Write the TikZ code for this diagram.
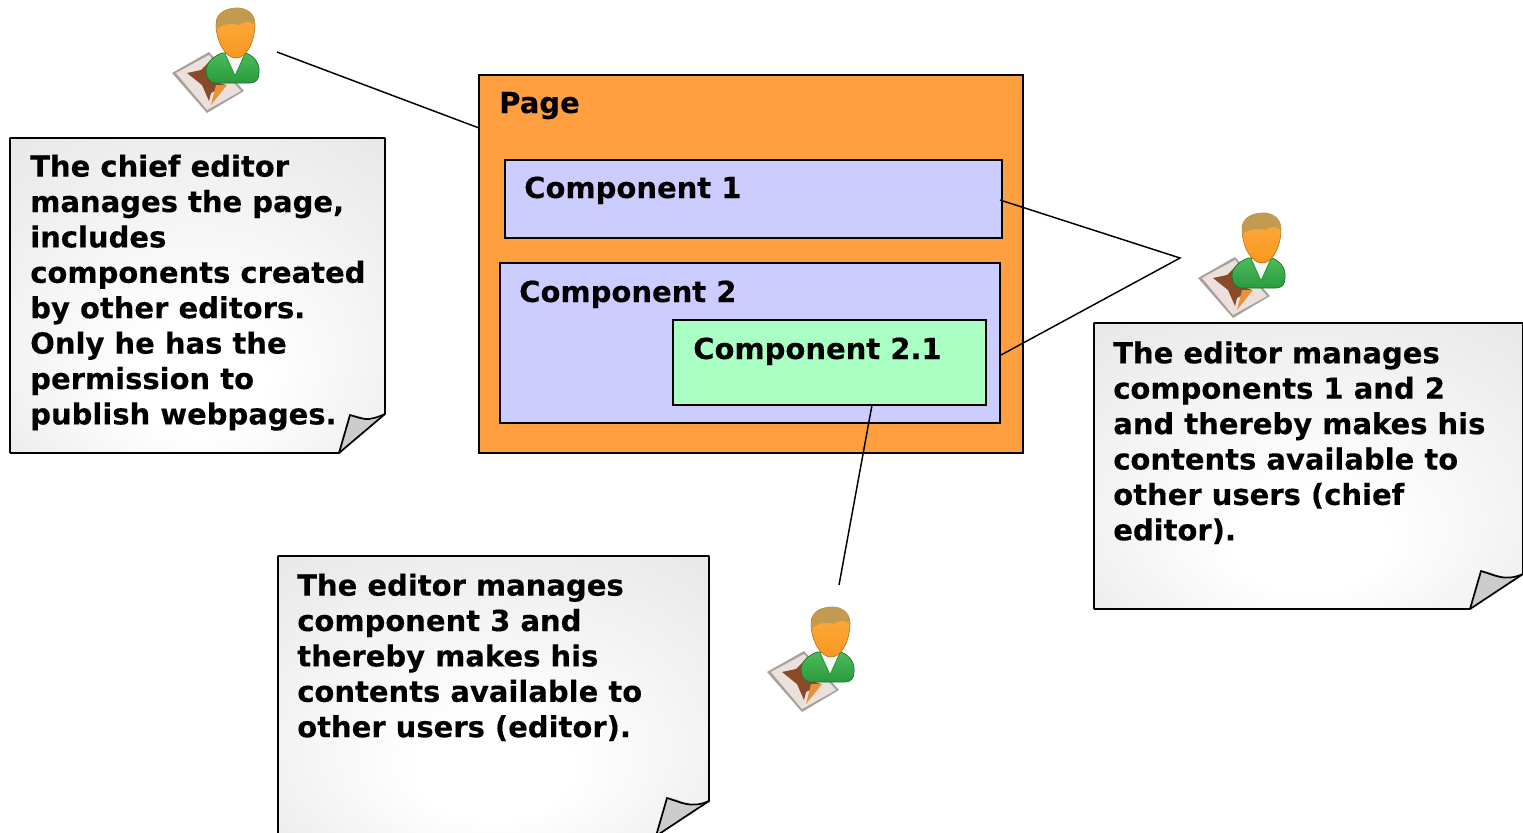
\documentclass[tikz,border=0pt]{standalone}
\usepackage{fontspec}
\setmainfont[BoldFeatures={FakeBold=0.25}]{DejaVu Sans}
\usetikzlibrary{calc}
\definecolor{pageorange}{HTML}{FF9F40}
\definecolor{complilac}{HTML}{CCCCFF}
\definecolor{compgreen}{HTML}{AAFFC3}
\definecolor{skin}{HTML}{F9981F}
\definecolor{skinlight}{HTML}{FFAE45}
\definecolor{hair}{HTML}{C29A50}
\definecolor{shirt}{HTML}{4DBB5A}
\definecolor{shirtdark}{HTML}{2A9A3E}
\definecolor{paperedge}{HTML}{A8A09C}
\definecolor{paperfill}{HTML}{EBE0DC}
\definecolor{starbrown}{HTML}{8A4A2A}
\definecolor{starorange}{HTML}{E8903C}
\pgfdeclareradialshading{noteshade}{\pgfpoint{0bp}{-16bp}}{%
  color(0bp)=(white);color(9bp)=(white);color(44bp)=(black!11);color(50bp)=(black!13)}
\tikzset{
  x=0.75pt,y=-0.75pt,
  boxtext/.style={font=\fontsize{21.75pt}{26.55pt}\selectfont\bfseries,inner sep=0pt,anchor=base west},
  notetext/.style={font=\fontsize{21.75pt}{26.55pt}\selectfont\bfseries,inner sep=0pt,anchor=north west,align=left},
  compbox/.style={draw=black,line width=1.5pt,inner sep=0pt,outer sep=0pt,anchor=north west},
  connector/.style={draw=black,line width=1.1pt},
  noteedge/.style={draw=black,line width=1.3pt,line join=round},
  usericon/.pic={
    % paper
    \fill[paperedge,line join=round] (-64,46) -- (-27,25) -- (8,64) -- (-29,86) -- cycle;
    \fill[paperfill] (-60,46) -- (-27,28) -- (5,64) -- (-29,83) -- cycle;
    \fill[starbrown] (-49,46) -- (-35,43) -- (-28,36) -- (-22,54) -- (-10,58) -- (-25,66) -- (-27,74) -- (-34,58) -- cycle;
    \fill[starorange] (-25,78) -- (-20,58) -- (-9,58) -- cycle;
    % body
    \shade[top color=shirt,bottom color=shirtdark,draw=shirtdark!70!black,line width=0.5pt] (-30,44) .. controls (-30,36) and (-24,30) .. (-14,26) -- (10,26) .. controls (20,30) and (24,38) .. (23,46) .. controls (23,52) and (20,56) .. (14,56) -- (-20,56) .. controls (-27,56) and (-30,50) .. (-30,44) -- cycle;
    \fill[black!3] (-11,27) -- (9,27) -- (-1,49) -- cycle;
    \draw[shirtdark,line width=0.8pt] (-11,27) -- (-1,49) -- (9,27);
    % head
    \shade[top color=skinlight,bottom color=skin,draw=skin!70!black,line width=0.4pt] (-20,-3) .. controls (-20,-24) and (19,-24) .. (19,-3) .. controls (19,14) and (11,31) .. (0,31) .. controls (-11,31) and (-20,14) .. (-20,-3) -- cycle;
    % hair
    \fill[hair] (-20,3) .. controls (-23,-25) and (21,-27) .. (19,-2) .. controls (14,-6) and (9,-6) .. (3,-2) .. controls (-6,-4) and (-14,-3) .. (-20,3) -- cycle;
  }
}
\newcommand{\notesheet}[8]{% name, x0,y0,x1,y1(apex right),xf,yb,clip bottom
  \path[shading=noteshade]
    (#2,#3) -- (#4,#3) -- (#4,#5) -- (#6,#7) -- (#2,#7) -- cycle;
  \begin{scope}
    \clip (#2-2,#3-2) rectangle (#4+2,#8);
    \fill[black!20] (#4,#5) .. controls ($(#4,#5)+(-18,13)$) and ($(#6,#7)+(30,-38)$) .. ($(#6,#7)+(11,-38)$) -- (#6,#7) -- cycle;
    \draw[noteedge] (#2,#7) -- (#2,#3) -- (#4,#3) -- (#4,#5) -- (#6,#7) -- (#2,#7);
    \draw[noteedge] (#4,#5) .. controls ($(#4,#5)+(-18,8)$) and ($(#6,#7)+(25,-34)$) .. ($(#6,#7)+(11,-38)$) -- (#6,#7);
  \end{scope}
  \coordinate (#1) at (#2,#3);
}
\begin{document}
\begin{tikzpicture}
\useasboundingbox (0,0) rectangle (1523,832);
% page and components
\node[compbox,fill=pageorange,minimum width=544*0.75pt,minimum height=378*0.75pt] (page) at (479,75) {};
\node[compbox,fill=complilac,minimum width=497*0.75pt,minimum height=78*0.75pt] (comp1) at (505,160) {};
\node[compbox,fill=complilac,minimum width=500*0.75pt,minimum height=160*0.75pt] (comp2) at (500,263) {};
\node[compbox,fill=compgreen,minimum width=313*0.75pt,minimum height=85*0.75pt] (comp21) at (673,320) {};
\node[boxtext] (lpage) at (499,113) {Page};
\node[boxtext] (lc1) at (524,198) {Component 1};
\node[boxtext] (lc2) at (519,302) {Component 2};
\node[boxtext] (lc21) at (693,359) {Component 2.1};
% notes
\notesheet{n1}{10}{138}{385}{414}{339}{453}{456}
\notesheet{n2}{1094}{323}{1523}{574}{1470}{609}{612}
\notesheet{n3}{278}{556}{709}{801}{656}{836}{832}
\node[notetext] (t1) at (30,154.3) {The chief editor\\manages the page,\\includes\\components created\\by other editors.\\Only he has the\\permission to\\publish webpages.};
\node[notetext] (t2) at (1113,341) {The editor manages\\components 1 and 2\\and thereby makes his\\contents available to\\other users (chief\\editor).};
\node[notetext] (t3) at (297,573.3) {The editor manages\\component 3 and\\thereby makes his\\contents available to\\other users (editor).};
% icons
\pic (u1) at (236,27) {usericon};
\pic (u2) at (1262,232) {usericon};
\pic (u3) at (831,626) {usericon};
% connectors
\coordinate (u1end) at (277,52);
\coordinate (pageedge) at (479,128);
\coordinate (u2end) at (1180,258);
\coordinate (c1edge) at (1000,200);
\coordinate (c2edge) at (1001,355);
\coordinate (c21edge) at (872,405);
\coordinate (u3end) at (839,585);
\draw[connector] (u1end) -- (pageedge);
\draw[connector] (c1edge) -- (u2end) -- (c2edge);
\draw[connector] (c21edge) -- (u3end);
\end{tikzpicture}
\end{document}
